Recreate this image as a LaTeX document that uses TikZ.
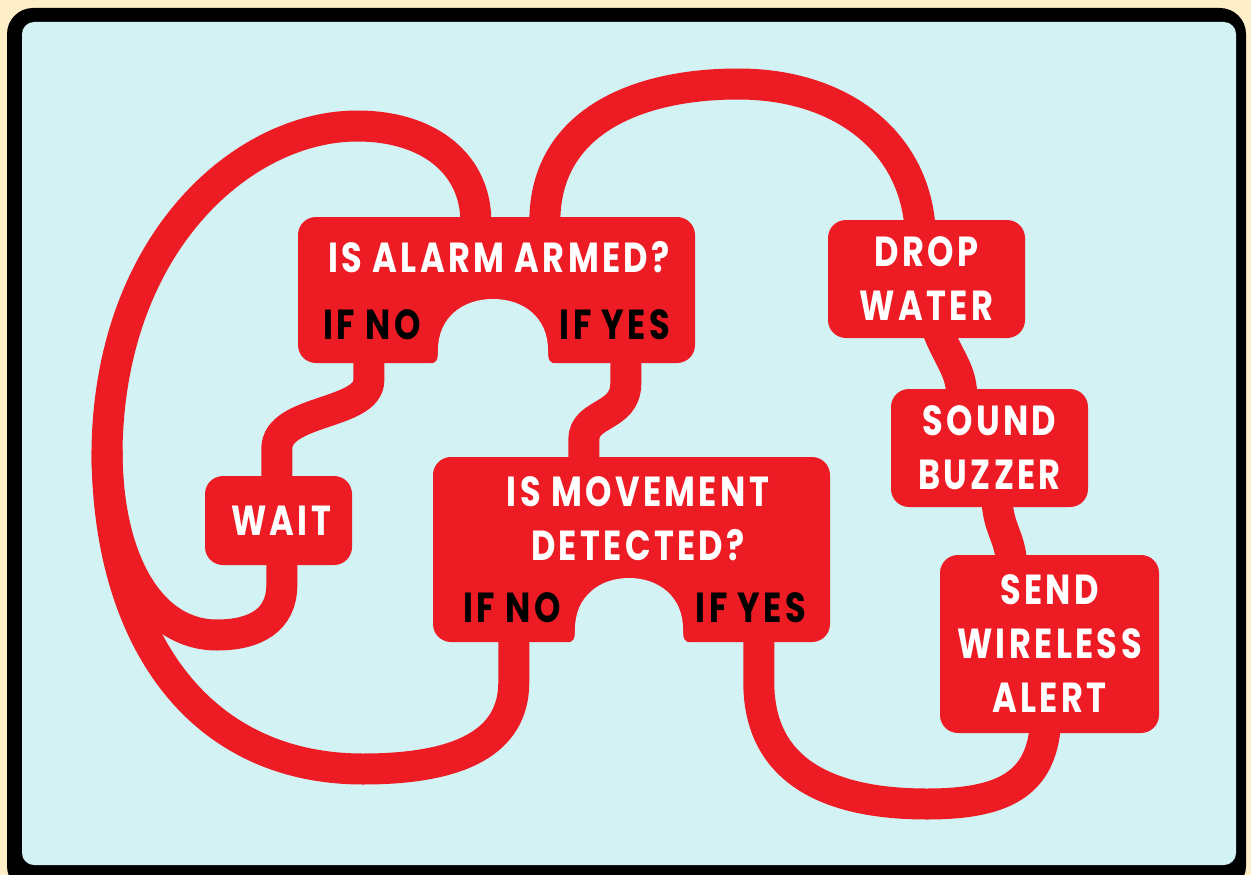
\documentclass[tikz,border=0pt]{standalone}
\usepackage{fontspec}
\usepackage{tikz}
\usetikzlibrary{positioning, calc, backgrounds}
\newfontfamily\flowface[FakeStretch=0.8, LetterSpace=8]{Poppins}
\definecolor{FCRed}{RGB}{237,28,36}
\definecolor{FCSky}{RGB}{211,242,244}
\definecolor{FCCream}{RGB}{255,239,200}
\newcommand{\flowfont}{\flowface\bfseries\fontsize{42}{54}\selectfont}

\begin{document}
\begin{tikzpicture}[x=1pt, y=-1pt,
    box/.style={fill=FCRed, rounded corners=18, inner sep=0pt},
    says/.style={text=white, font=\flowfont, align=center, inner sep=0pt},
    branch/.style={text=black, font=\flowfont, inner sep=0pt},
    tube/.style={draw=FCRed, line width=31},
    notch/.style={fill=FCSky}]
  \useasboundingbox (0,0) rectangle (1251,875);

  % ---- steps ----
  \node[box, minimum width=397, minimum height=146] (alarm) at (496.5,290) {};
  \node[says] (alarmq) at (499,257) {IS ALARM ARMED?};
  \node[branch] (alarmno) at (372,325) {IF NO};
  \node[branch] (alarmyes) at (615,325) {IF YES};

  \node[box, says, minimum width=147, minimum height=89] (wait) at (278.5,520.5) {\hspace*{5pt}WAIT};

  \node[box, minimum width=397, minimum height=185] (movement) at (631.5,549.5) {};
  \node[says] (moveq) at (638,519) {IS MOVEMENT\\DETECTED?};
  \node[branch] (moveno) at (512,608) {IF NO};
  \node[branch] (moveyes) at (751,608) {IF YES};

  \node[box, says, minimum width=197, minimum height=118] (drop) at (926.5,279) {DROP\\WATER};
  \node[box, says, minimum width=197, minimum height=118] (buzzer) at (989.5,448) {SOUND\\BUZZER};
  \node[box, says, minimum width=219, minimum height=178] (alert) at (1049.5,644) {SEND\\WIRELESS\\ALERT};

  % arches cut out under the questions
  \fill[notch] (428,364) .. controls (437,364) and (438,360) .. (438,350)
    .. controls (438,318) and (462,299) .. (493,299)
    .. controls (524,299) and (548,318) .. (548,350)
    .. controls (548,360) and (549,364) .. (558,364) -- cycle;
  \fill[notch] (565,643) .. controls (574,643) and (575,639) .. (575,629)
    .. controls (575,597) and (599,578) .. (629,578)
    .. controls (659,578) and (683,597) .. (683,629)
    .. controls (683,639) and (684,643) .. (693,643) -- cycle;

  \begin{scope}[on background layer]
    % frame
    \fill[FCCream] (0,0) rectangle (1251,875);
    \fill[black, rounded corners=26] (7,8) rectangle (1246,892);
    \fill[FCSky, rounded corners=12] (22,22) rectangle (1236,865);

    % alarm no -> wait
    \draw[tube] ($(alarm.south west)+(71,-5)$) -- ++(0,22)
      .. controls +(0,35) and +(0,-40) .. ($(wait.north west)+(72,-27)$)
      -- ($(wait.north west)+(72,5)$);
    % alarm yes -> movement
    \draw[tube] ($(alarm.south west)+(328,-5)$) -- ++(0,25)
      .. controls +(0,35) and +(0,-28) .. ($(movement.north west)+(151,-17)$)
      -- ($(movement.north west)+(151,5)$);
    % wait -> back to alarm
    \draw[tube] ($(wait.south west)+(77,-5)$) -- ++(0,25)
      .. controls +(0,35) and +(38,0) .. (217,635)
      .. controls (150,635) and (107,560) .. (107,450)
      .. controls (110,240) and (245,126) .. (357,126)
      .. controls (430,126) and (476,165) .. ($(alarm.north west)+(178,5)$);
    % movement no -> joins the loop
    \draw[tube] ($(movement.south west)+(81,-5)$) -- ++(0,45)
      .. controls +(0,60) and +(97,0) .. (363,769)
      .. controls (200,769) and (107,640) .. (107,450);
    % movement yes -> alert
    \draw[tube] ($(movement.south west)+(326,-5)$) -- ++(0,45)
      .. controls +(0,90) and +(-97,0) .. (927,804)
      .. controls (1010,804) and (1042,780) .. ($(alert.south west)+(106,-12)$);
    % alarm -> drop water
    \draw[tube] ($(alarm.north west)+(247,5)$)
      .. controls (545,120) and (640,84) .. (738,84)
      .. controls (840,84) and (912,140) .. ($(drop.north west)+(92,5)$);
    % drop -> buzzer -> alert
    \draw[tube] ($(drop.south west)+(109,-10)$)
      .. controls (950,362) and (962,370) .. ($(buzzer.north west)+(71,10)$);
    \draw[tube] ($(buzzer.south west)+(106,-10)$)
      .. controls (998,530) and (1010,535) .. ($(alert.north west)+(72,10)$);
  \end{scope}
\end{tikzpicture}
\end{document}
